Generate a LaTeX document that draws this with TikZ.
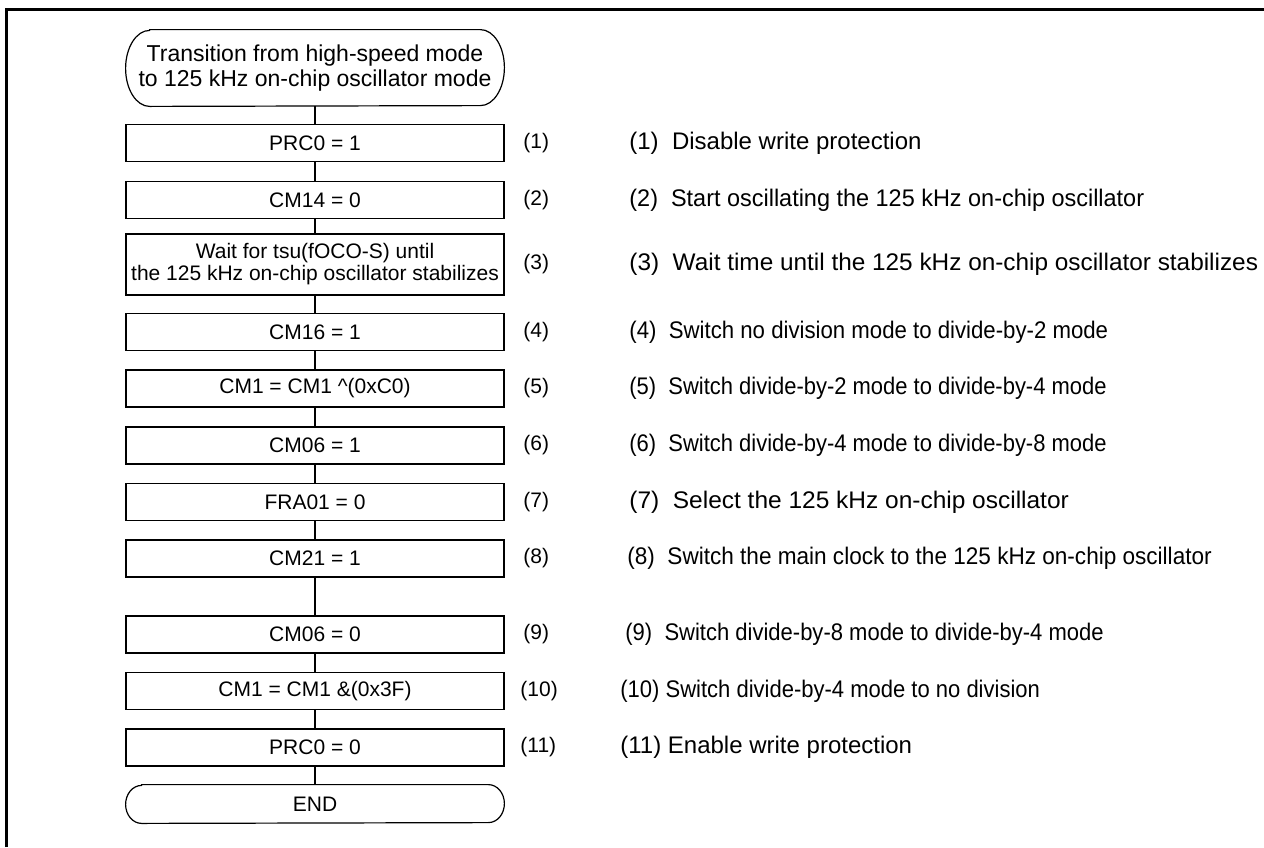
\documentclass[tikz,border=0pt]{standalone}
\usepackage{fontspec}
\usepackage{graphicx}
\setmainfont{Liberation Sans}
\newcommand{\hsq}[2]{\scalebox{#1}[1]{#2}}
\begin{document}
\begin{tikzpicture}[x=0.5pt,y=-0.5pt,
  stepbox/.style={draw, line width=0.6pt, minimum width=189pt, minimum height=18.5pt, inner sep=0pt, align=center, font=\fontsize{10.5}{11}\selectfont},
  termbox/.style={minimum width=189pt, inner sep=0pt, align=center},
  num/.style={anchor=west, inner sep=0pt, font=\fontsize{10.5}{12}\selectfont},
  desc/.style={anchor=west, inner sep=0pt, font=\fontsize{12}{13}\selectfont},
  link/.style={line width=0.6pt},
  frame/.style={line width=1.5pt, line join=miter}]
\useasboundingbox (0,0) rectangle (1264,847);
\fill[white] (0,0) rectangle (1264,847);
\draw[frame] (6,847) -- (6,9) -- (1264,9);

% start terminal
\node[termbox, minimum height=38pt, font=\fontsize{11.5}{12.5}\selectfont] (start) at (315,68) {Transition from high-speed mode\\to 125 kHz on-chip oscillator mode};
\draw[link] ([xshift=12pt]start.north west) -- ([xshift=-12pt]start.north east)
  arc[start angle=90,end angle=-90,x radius=12pt,y radius=19pt]
  -- ([xshift=12pt]start.south west)
  arc[start angle=270,end angle=90,x radius=12pt,y radius=19pt] -- cycle;

\node[stepbox] (b1) at (315,143) {PRC0 = 1};
\node[stepbox] (b2) at (315,200) {CM14 = 0};
\node[stepbox, minimum height=30.5pt] (b3) at (315,264.5) {Wait for tsu(fOCO-S) until\\the 125 kHz on-chip oscillator stabilizes};
\node[stepbox] (b4) at (315,332) {CM16 = 1};
\node[stepbox] (b5) at (315,388.5) {CM1 = CM1 \^{}(0xC0)};
\node[stepbox] (b6) at (315,445.5) {CM06 = 1};
\node[stepbox] (b7) at (315,502) {FRA01 = 0};
\node[stepbox] (b8) at (315,558.5) {CM21 = 1};
\node[stepbox] (b9) at (315,634.5) {CM06 = 0};
\node[stepbox] (b10) at (315,691) {CM1 = CM1 \&(0x3F)};
\node[stepbox] (b11) at (315,747.5) {PRC0 = 0};

% end terminal
\node[termbox, minimum height=19pt, font=\fontsize{10.5}{12}\selectfont] (end) at (315,804) {END};
\draw[link] ([xshift=8pt]end.north west) -- ([xshift=-8pt]end.north east)
  arc[start angle=90,end angle=-90,x radius=8pt,y radius=9.5pt]
  -- ([xshift=8pt]end.south west)
  arc[start angle=270,end angle=90,x radius=8pt,y radius=9.5pt] -- cycle;

% connectors
\draw[link] (start) -- (b1);
\draw[link] (b1) -- (b2);
\draw[link] (b2) -- (b3);
\draw[link] (b3) -- (b4);
\draw[link] (b4) -- (b5);
\draw[link] (b5) -- (b6);
\draw[link] (b6) -- (b7);
\draw[link] (b7) -- (b8);
\draw[link] (b8) -- (b9);
\draw[link] (b9) -- (b10);
\draw[link] (b10) -- (b11);
\draw[link] (b11) -- (end);

% step numbers
\node[num] (n1) at (523,143) {(1)};
\node[num] (n2) at (523,200) {(2)};
\node[num] (n3) at (523,264.5) {(3)};
\node[num] (n4) at (523,332) {(4)};
\node[num] (n5) at (523,388.5) {(5)};
\node[num] (n6) at (523,445.5) {(6)};
\node[num] (n7) at (523,502) {(7)};
\node[num] (n8) at (523,558.5) {(8)};
\node[num] (n9) at (523,634.5) {(9)};
\node[num] (n10) at (520,691) {(10)};
\node[num] (n11) at (520,747.5) {(11)};

% descriptions
\node[desc] (d1) at (629,143) {(1)\ \ Disable write protection};
\node[desc] (d2) at (629,200) {\hsq{0.977}{(2)\ \ Start oscillating the 125 kHz on-chip oscillator}};
\node[desc] (d3) at (629,264.5) {\hsq{1.015}{(3)\ \ Wait time until the 125 kHz on-chip oscillator stabilizes}};
\node[desc] (d4) at (629,332) {\hsq{0.925}{(4)\ \ Switch no division mode to divide-by-2 mode}};
\node[desc] (d5) at (629,388.5) {\hsq{0.915}{(5)\ \ Switch divide-by-2 mode to divide-by-4 mode}};
\node[desc] (d6) at (629,445.5) {\hsq{0.915}{(6)\ \ Switch divide-by-4 mode to divide-by-8 mode}};
\node[desc] (d7) at (629,502) {\hsq{1.02}{(7)\ \ Select the 125 kHz on-chip oscillator}};
\node[desc] (d8) at (627,558.5) {\hsq{0.94}{(8)\ \ Switch the main clock to the 125 kHz on-chip oscillator}};
\node[desc] (d9) at (625,634.5) {\hsq{0.917}{(9)\ \ Switch divide-by-8 mode to divide-by-4 mode}};
\node[desc] (d10) at (620,691) {\hsq{0.917}{(10) Switch divide-by-4 mode to no division}};
\node[desc] (d11) at (620,747.5) {(11) Enable write protection};
\end{tikzpicture}
\end{document}
